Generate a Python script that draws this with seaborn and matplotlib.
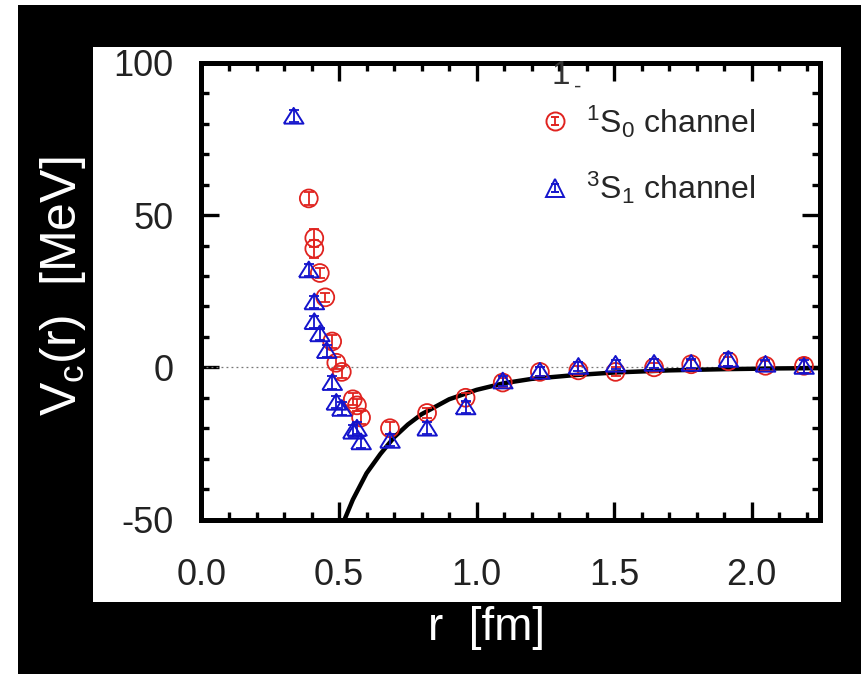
import numpy as np
import pandas as pd
import matplotlib
matplotlib.use("Agg")
import matplotlib.pyplot as plt
from matplotlib.patches import Rectangle
from matplotlib.ticker import MultipleLocator
from matplotlib.container import ErrorbarContainer
from matplotlib.legend_handler import HandlerErrorbar
import seaborn as sns

# 1S0 channel: central potential (MeV) vs separation r (fm)
r_1s0 = [0.39, 0.41, 0.41, 0.43, 0.45, 0.475, 0.49, 0.51, 0.55, 0.565, 0.58,
         0.685, 0.82, 0.96, 1.095, 1.23, 1.37, 1.505, 1.645, 1.78, 1.915, 2.05, 2.19]
v_1s0 = [55.5, 42.5, 39.0, 31.0, 23.0, 8.5, 1.5, -1.5, -10.5, -12.5, -16.5,
         -20.0, -15.0, -10.0, -5.0, -1.5, -1.0, -1.5, 0.0, 1.0, 2.0, 0.5, 0.5]
e_1s0 = [2.0, 3.0, 3.0, 1.5, 1.5, 2.0, 2.0, 2.0, 2.0, 2.0, 2.0,
         2.0, 1.5, 1.5, 1.5, 1.5, 1.5, 1.5, 1.5, 1.5, 1.5, 1.5, 2.5]

# 3S1 channel
r_3s1 = [0.335, 0.39, 0.41, 0.41, 0.43, 0.455, 0.475, 0.49, 0.51, 0.55, 0.565, 0.58,
         0.685, 0.82, 0.96, 1.095, 1.23, 1.37, 1.505, 1.645, 1.78, 1.915, 2.05, 2.19]
v_3s1 = [82.5, 32.0, 21.5, 15.0, 11.0, 5.5, -5.0, -11.5, -13.5, -21.0, -20.0, -24.5,
         -24.0, -20.0, -13.0, -4.5, -1.3, 0.3, 1.0, 1.3, 1.3, 2.6, 1.0, 0.3]
e_3s1 = [2.0, 2.0, 2.0, 2.0, 2.0, 2.0, 2.0, 2.0, 2.0, 2.0, 2.0, 2.0,
         2.0, 2.0, 2.0, 1.5, 1.5, 1.5, 1.5, 1.5, 1.5, 2.0, 1.5, 2.0]

# long-range fit curve
r_fit = [0.50, 0.52, 0.55, 0.60, 0.65, 0.70, 0.75, 0.80, 0.90, 1.00, 1.10,
         1.20, 1.35, 1.50, 1.70, 1.90, 2.10, 2.25]
v_fit = [-55.0, -50.0, -43.5, -34.8, -28.5, -23.0, -18.8, -15.4, -10.5, -7.4, -5.2,
         -3.8, -2.6, -1.7, -1.0, -0.6, -0.35, -0.25]

x_ticks = [0.0, 0.5, 1.0, 1.5, 2.0]
y_ticks = [-50, 0, 50, 100]

RED = "#e0231f"
BLUE = "#1414cc"

df1 = pd.DataFrame({"r": r_1s0, "V": v_1s0, "err": e_1s0})
df3 = pd.DataFrame({"r": r_3s1, "V": v_3s1, "err": e_3s1})
dfit = pd.DataFrame({"r": r_fit, "V": v_fit})

sns.set_theme(style="white")
plt.rcParams["font.family"] = ["Liberation Sans", "DejaVu Sans"]
plt.rcParams["mathtext.fontset"] = "custom"
plt.rcParams["mathtext.rm"] = "Liberation Sans"
plt.rcParams["mathtext.default"] = "regular"
plt.rcParams["axes.unicode_minus"] = False

W, H = 862, 674
fig = plt.figure(figsize=(W / 100, H / 100), dpi=100, facecolor="black")

def fig_rect(x0, y0, x1, y1, color):
    fig.patches.append(Rectangle((x0 / W, 1 - y1 / H), (x1 - x0) / W, (y1 - y0) / H,
                                 transform=fig.transFigure, facecolor=color,
                                 edgecolor="none", zorder=-5))

fig_rect(93, 47, 841, 602, "white")
fig_rect(0, 0, 18, H, "white")
fig_rect(0, 0, W, 5, "white")

ax = fig.add_axes([201.5 / W, 1 - 519.5 / H, 619 / W, 456.5 / H])
ax.set_facecolor("white")

ax.axhline(0, color="#777777", lw=0.9, ls=(0, (1.5, 2.5)), zorder=1)

sns.lineplot(data=dfit, x="r", y="V", color="black", lw=3.2, ax=ax, zorder=2,
             sort=True, estimator=None)

# wide, closed triangle outline
tri = [(-1.0, -0.75), (1.0, -0.75), (0.0, 0.85), (-1.0, -0.75)]

ax.errorbar(df1["r"], df1["V"], yerr=df1["err"], fmt="none", ecolor=RED,
            elinewidth=1.3, capsize=3.5, capthick=1.3, zorder=3)
ax.errorbar(df3["r"], df3["V"], yerr=df3["err"], fmt="none", ecolor=BLUE,
            elinewidth=1.3, capsize=3.5, capthick=1.3, zorder=4)

sns.scatterplot(data=df1, x="r", y="V", marker="o", s=165, facecolor="none",
                edgecolor=RED, linewidth=1.3, ax=ax, zorder=3, legend=False)
sns.scatterplot(data=df3, x="r", y="V", marker=tri, s=200, facecolor="none",
                edgecolor=BLUE, linewidth=1.4, ax=ax, zorder=4, legend=False)

# legend proxies (marker with error bar)
h1 = ax.errorbar([np.nan], [np.nan], yerr=[1], fmt="o", ms=13, mfc="none", mec=RED,
                 mew=1.4, ecolor=RED, elinewidth=1.3, capsize=3, label=r"$^{1}$S$_{0}$ channel")
h3 = ax.errorbar([np.nan], [np.nan], yerr=[1], fmt="^", ms=13, mfc="none", mec=BLUE,
                 mew=1.4, ecolor=BLUE, elinewidth=1.3, capsize=3, label=r"$^{3}$S$_{1}$ channel")
leg = ax.legend(handles=[h1, h3], loc="upper left", bbox_to_anchor=(0.525, 0.94),
                frameon=False, fontsize=23, handlelength=1.0, handletextpad=0.45,
                labelspacing=0.95, borderaxespad=0,
                handler_map={ErrorbarContainer: HandlerErrorbar(yerr_size=0.13)})

ax.text(1.272, 101.0, "1", fontsize=24, color="#333333", ha="left", va="top", zorder=5)
ax.text(1.355, 95.5, "-", fontsize=16, color="#333333", ha="left", va="top", zorder=5)

ax.set_xlim(0, 2.25)
ax.set_ylim(-50, 100)
ax.set_xticks(x_ticks)
ax.set_xticklabels([f"{t:.1f}" for t in x_ticks])
ax.set_yticks(y_ticks)
ax.set_yticklabels([str(t) for t in y_ticks])
ax.xaxis.set_minor_locator(MultipleLocator(0.1))
ax.yaxis.set_minor_locator(MultipleLocator(10))
ax.tick_params(which="both", direction="in", top=True, right=True, bottom=True, left=True,
               colors="black", labelcolor="#222222", labelsize=26)
ax.tick_params(axis="y", which="both", pad=20)
ax.tick_params(axis="x", which="both", pad=28)
ax.tick_params(which="major", length=13, width=2.4)
ax.tick_params(which="minor", length=6, width=2.4)
for s in ax.spines.values():
    s.set_linewidth(3.6)
    s.set_color("black")

ax.set_xlabel("r  [fm]", fontsize=33, color="white")
ax.set_ylabel("V$_{c}$(r)  [MeV]", fontsize=36, color="white")
ax.xaxis.set_label_coords(0.46, -0.19)
ax.yaxis.set_label_coords(-0.183, 0.51)

fig.savefig("out.png", dpi=100, facecolor="black")
